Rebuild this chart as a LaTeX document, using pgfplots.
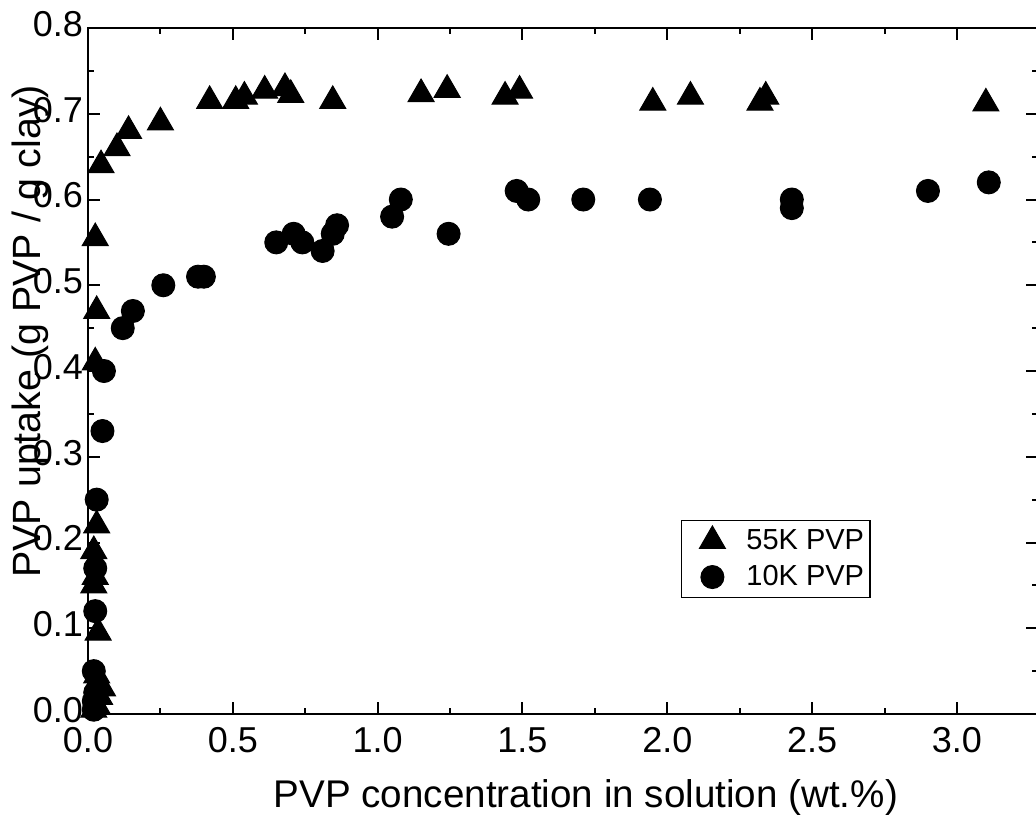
\documentclass[border=0pt]{standalone}
\usepackage{fontspec}
\setmainfont{Liberation Sans}
\usepackage{pgfplots}
\pgfplotsset{compat=1.18}

\begin{document}
\begin{tikzpicture}
\begin{axis}[
    scale only axis,
    width=475pt, height=343pt,
    xmin=0, xmax=3.28,
    ymin=0, ymax=0.8,
    xtick={0,0.5,1,1.5,2,2.5,3},
    xticklabels={0.0,0.5,1.0,1.5,2.0,2.5,3.0},
    ytick={0,0.1,0.2,0.3,0.4,0.5,0.6,0.7,0.8},
    yticklabels={0.0,0.1,0.2,0.3,0.4,0.5,0.6,0.7,0.8},
    minor tick num=1,
    tick pos=both,
    tick align=inside,
    major tick length=6pt,
    minor tick length=3pt,
    axis line style={line width=1.25pt},
    every tick/.style={black, line width=1pt},
    typeset ticklabels with strut,
    tick label style={font=\fontsize{18}{21}\selectfont},
    xticklabel style={yshift=-1pt},
    yticklabel style={xshift=1pt},
    xlabel={PVP concentration in solution (wt.\%)},
    ylabel={PVP uptake (g PVP / g clay)},
    every axis x label/.style={at={(axis description cs:0.524,-0.137)}, anchor=base, font=\fontsize{19.3}{22}\selectfont},
    every axis y label/.style={at={(axis description cs:-0.0504,0.558)}, anchor=base, rotate=90, font=\fontsize{19.7}{22}\selectfont},
    clip=false,
    legend image code/.code={
        \path[draw=none, fill=none] (0pt,-3pt) rectangle (25pt,3pt);
        \draw[#1] plot coordinates {(12.5pt,0pt)};
    },
    legend style={at={(axis description cs:0.624,0.283)}, anchor=north west,
        draw=black, line width=0.6pt, font=\fontsize{14.5}{17}\selectfont,
        nodes={inner xsep=0pt, inner ysep=2pt},
        row sep=2.5pt, column sep=4.5pt, inner xsep=3pt, inner ysep=2.5pt},
    legend cell align=left,
]
\addplot[only marks, mark=triangle*, mark size=7.5pt,
    mark options={draw=black, fill=black, line width=0.5pt}] coordinates {
    (0.02,0.005) (0.03,0.01) (0.04,0.02) (0.05,0.03) (0.03,0.045)
    (0.035,0.095) (0.02,0.15) (0.025,0.16) (0.02,0.19) (0.03,0.22)
    (0.025,0.41) (0.03,0.47) (0.025,0.555) (0.045,0.64) (0.10,0.66)
    (0.14,0.68) (0.25,0.69) (0.42,0.715) (0.51,0.715) (0.54,0.72)
    (0.61,0.727) (0.68,0.73) (0.70,0.722) (0.845,0.715) (1.15,0.723)
    (1.24,0.728) (1.44,0.72) (1.49,0.727) (1.95,0.713) (2.08,0.72)
    (2.32,0.713) (2.34,0.72) (3.10,0.712)
};
\addlegendentry{55K PVP}
\addplot[only marks, mark=*, mark size=5.75pt,
    mark options={draw=black, fill=black, line width=0.5pt}] coordinates {
    (0.02,0.005) (0.02,0.015) (0.025,0.025) (0.02,0.05) (0.025,0.12)
    (0.025,0.17) (0.03,0.25) (0.05,0.33) (0.055,0.40) (0.12,0.45)
    (0.155,0.47) (0.26,0.50) (0.38,0.51) (0.40,0.51) (0.65,0.55)
    (0.71,0.56) (0.74,0.55) (0.81,0.54) (0.845,0.56) (0.86,0.57)
    (1.05,0.58) (1.08,0.60) (1.245,0.56) (1.48,0.61) (1.52,0.60)
    (1.71,0.60) (1.94,0.60) (2.43,0.59) (2.43,0.60) (2.90,0.61)
    (3.11,0.62)
};
\addlegendentry{10K PVP}
\coordinate (bl) at (rel axis cs:0,0);
\end{axis}
\pgfresetboundingbox
\path[use as bounding box] ([shift={(-44pt,-53.5pt)}]bl) rectangle ([shift={(474pt,357pt)}]bl);
\end{tikzpicture}
\end{document}
